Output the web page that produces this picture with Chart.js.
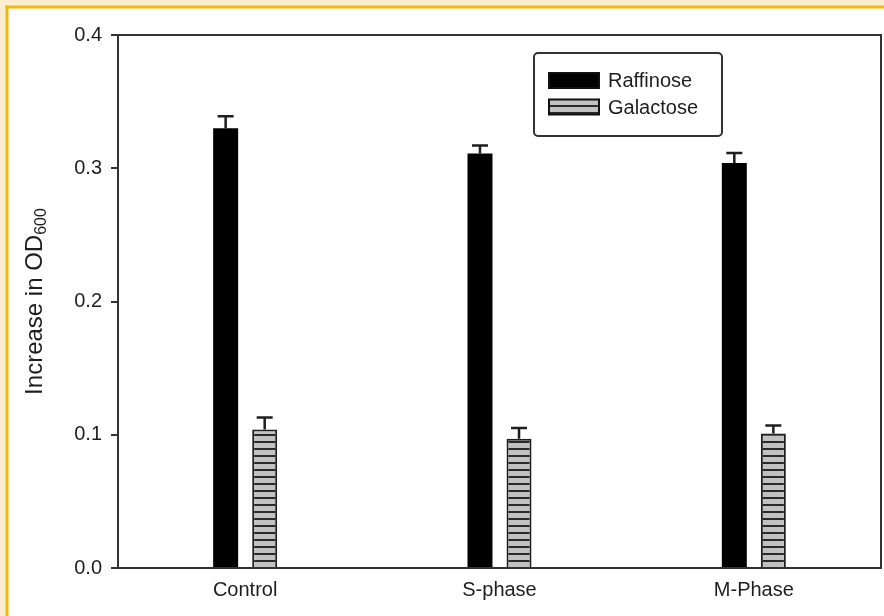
<!DOCTYPE html>
<html>
<head>
<meta charset="utf-8">
<script src="https://cdn.jsdelivr.net/npm/chart.js@4.4.1/dist/chart.umd.min.js"></script>
<style>
  html, body { margin: 0; padding: 0; background: #fcedcf; }
  #wrap { width: 884px; height: 616px; position: relative; }
  canvas { display: block; }
</style>
</head>
<body>
<div id="wrap"><canvas id="c" width="884" height="616"></canvas></div>
<script>
// ---- data ----
const categories = ['Control', 'S-phase', 'M-Phase'];
const seriesNames = ['Raffinose', 'Galactose'];
const raffinose = [0.330, 0.311, 0.304];
const raffinoseErr = [0.009, 0.006, 0.0075];
const galactose = [0.104, 0.097, 0.101];
const galactoseErr = [0.009, 0.008, 0.006];
const yTicks = [0.0, 0.1, 0.2, 0.3, 0.4];
const yTitle = 'Increase in OD';
const yTitleSub = '600';

const FONT = "'Liberation Sans', Arial, sans-serif";
const INK = '#1e1e1e';
const FRAME = '#333333';

function makeStripes() {
  const c = document.createElement('canvas');
  c.width = 8; c.height = 7;
  const g = c.getContext('2d');
  g.fillStyle = '#c2c2c2';
  g.fillRect(0, 0, 8, 7);
  g.fillStyle = '#2a2a2a';
  g.fillRect(0, 0, 8, 2);
  return document.getElementById('c').getContext('2d').createPattern(c, 'repeat');
}
const stripes = makeStripes();

const errors = [raffinoseErr, galactoseErr];

const pagePlugin = {
  id: 'page',
  beforeDraw(chart) {
    const ctx = chart.ctx;
    ctx.save();
    ctx.fillStyle = '#fcedcf';
    ctx.fillRect(0, 0, chart.width, chart.height);
    ctx.fillStyle = '#ffffff';
    ctx.fillRect(8, 8, chart.width - 8, chart.height - 8);
    ctx.fillStyle = '#f3b80c';
    ctx.fillRect(5.5, 5.5, chart.width - 5.5, 3);
    ctx.fillRect(5.5, 5.5, 3, chart.height - 5.5);
    ctx.restore();
  },
  afterDatasetsDraw(chart) {
    const ctx = chart.ctx;
    const ys = chart.scales.y;
    ctx.save();
    ctx.strokeStyle = INK;
    ctx.lineWidth = 2.5;
    chart.data.datasets.forEach((ds, di) => {
      const meta = chart.getDatasetMeta(di);
      meta.data.forEach((el, i) => {
        const v = ds.data[i];
        const top = ys.getPixelForValue(v + errors[di][i]);
        ctx.beginPath();
        ctx.moveTo(el.x, el.y);
        ctx.lineTo(el.x, top);
        ctx.moveTo(el.x - 8, top);
        ctx.lineTo(el.x + 8, top);
        ctx.stroke();
      });
    });
    ctx.restore();
  },
  afterDraw(chart) {
    const ctx = chart.ctx;
    const a = chart.chartArea;
    ctx.save();
    // frame top & right
    ctx.strokeStyle = FRAME;
    ctx.lineWidth = 2;
    ctx.beginPath();
    ctx.moveTo(a.left, a.top);
    ctx.lineTo(a.right, a.top);
    ctx.lineTo(a.right, a.bottom);
    ctx.stroke();

    // y title with subscript
    ctx.fillStyle = INK;
    ctx.translate(35, (a.top + a.bottom) / 2 + 0);
    ctx.rotate(-Math.PI / 2);
    ctx.font = '24px ' + FONT;
    const w1 = ctx.measureText(yTitle).width;
    ctx.font = '16px ' + FONT;
    const w2 = ctx.measureText(yTitleSub).width;
    const start = -(w1 + w2) / 2;
    ctx.textBaseline = 'alphabetic';
    ctx.textAlign = 'left';
    ctx.font = '24px ' + FONT;
    ctx.fillText(yTitle, start, 7);
    ctx.font = '16px ' + FONT;
    ctx.fillText(yTitleSub, start + w1, 11);
    ctx.restore();

    // legend box
    ctx.save();
    const lx = 534, ly = 53, lw = 188, lh = 83;
    ctx.strokeStyle = FRAME;
    ctx.lineWidth = 2;
    ctx.beginPath();
    ctx.roundRect(lx, ly, lw, lh, 4);
    ctx.stroke();
    ctx.font = '20px ' + FONT;
    ctx.textBaseline = 'middle';
    ctx.textAlign = 'left';
    const rows = [80.5, 107];
    chart.data.datasets.forEach((ds, di) => {
      const cy = rows[di];
      ctx.fillStyle = ds.backgroundColor;
      ctx.fillRect(549, cy - 7.5, 50, 15);
      ctx.strokeStyle = '#111';
      ctx.lineWidth = 2;
      ctx.strokeRect(549, cy - 7.5, 50, 15);
      ctx.fillStyle = INK;
      ctx.fillText(ds.label, 608, cy + 1);
    });
    ctx.restore();
  }
};

new Chart(document.getElementById('c'), {
  type: 'bar',
  data: {
    labels: categories,
    datasets: [
      { label: seriesNames[0], data: raffinose, backgroundColor: '#000000', borderColor: '#000000', borderWidth: 0,
        categoryPercentage: 0.307, barPercentage: 0.64 },
      { label: seriesNames[1], data: galactose, backgroundColor: stripes, borderColor: '#1e1e1e', borderWidth: 2,
        categoryPercentage: 0.307, barPercentage: 0.64 }
    ]
  },
  options: {
    responsive: false,
    animation: false,
    devicePixelRatio: 1,
    layout: { padding: { top: 35, right: 3, left: 0, bottom: 0 } },
    plugins: { legend: { display: false }, tooltip: { enabled: false } },
    scales: {
      x: {
        grid: { display: false, drawTicks: false },
        border: { display: true, color: FRAME, width: 2 },
        ticks: { color: INK, font: { family: FONT, size: 20 }, padding: 10 },
        afterFit(s) { s.height = 48; }
      },
      y: {
        min: 0, max: 0.4,
        afterBuildTicks(s) { s.ticks = yTicks.map(v => ({ value: v })); },
        grid: { drawOnChartArea: false, drawTicks: true, tickLength: 7, color: FRAME, lineWidth: 2 },
        border: { display: true, color: FRAME, width: 2 },
        ticks: { color: INK, font: { family: FONT, size: 20 }, padding: 9,
                 callback: v => Number(v).toFixed(1) },
        afterFit(s) { s.width = 118; }
      }
    }
  },
  plugins: [pagePlugin]
});
</script>
</body>
</html>
